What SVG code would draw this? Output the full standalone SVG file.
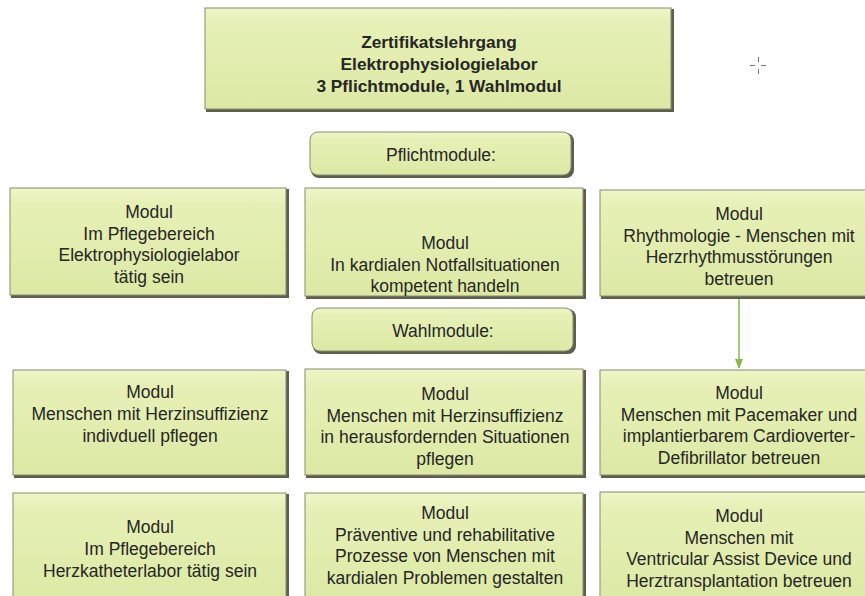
<svg xmlns="http://www.w3.org/2000/svg" width="865" height="596" viewBox="0 0 865 596">
<defs>
<linearGradient id="g" x1="0" y1="0" x2="0" y2="1">
<stop offset="0" stop-color="#eef5c6"/>
<stop offset="0.15" stop-color="#e6f0b6"/>
<stop offset="1" stop-color="#dce9a4"/>
</linearGradient>
<marker id="arr" viewBox="0 0 10 10" refX="9" refY="5" markerWidth="7" markerHeight="7" orient="auto">
<path d="M0,1 L10,5 L0,9 Z" fill="#86bb4a"/>
</marker>
</defs>
<style>
.sh{fill:#5e5e4c;}
.bx{fill:url(#g);stroke:#8a8a72;stroke-width:1;}
.t{font-family:"Liberation Sans",Arial,sans-serif;font-size:17.5px;fill:#262626;text-anchor:middle;}
.b{font-weight:bold;font-size:17.3px;}
</style>
<rect width="865" height="596" fill="#ffffff"/>

<g id="connectors">
<line x1="739" y1="299" x2="739" y2="368" stroke="#86bb4a" stroke-width="1.5" marker-end="url(#arr)"/>
</g>

<g id="title">
<rect class="sh" x="206" y="9" width="468" height="103"/>
<rect class="bx" x="205" y="8" width="466" height="101"/>
<text class="t b" x="439" y="48">Zertifikatslehrgang</text>
<text class="t b" x="439" y="70">Elektrophysiologielabor</text>
<text class="t b" x="439" y="92">3 Pflichtmodule, 1 Wahlmodul</text>
</g>

<g id="pflicht">
<rect class="sh" x="311" y="133" width="263" height="45" rx="8"/>
<rect class="bx" x="310" y="132" width="261" height="43" rx="8"/>
<text class="t" x="441" y="161">Pflichtmodule:</text>
</g>

<g id="m1">
<rect class="sh" x="11" y="189" width="278" height="109"/>
<rect class="bx" x="10" y="188" width="276" height="107"/>
<text class="t" x="149" y="218">Modul</text>
<text class="t" x="149" y="239.5">Im Pflegebereich</text>
<text class="t" x="149" y="261">Elektrophysiologielabor</text>
<text class="t" x="149" y="282.5">tätig sein</text>
</g>

<g id="m2">
<rect class="sh" x="306" y="189" width="280" height="110"/>
<rect class="bx" x="305" y="188" width="278" height="108"/>
<text class="t" x="445" y="249">Modul</text>
<text class="t" x="445" y="270.5">In kardialen Notfallsituationen</text>
<text class="t" x="445" y="292">kompetent handeln</text>
</g>

<g id="m3">
<rect class="sh" x="601" y="191" width="280" height="108"/>
<rect class="bx" x="600" y="190" width="280" height="106"/>
<text class="t" x="739" y="220">Modul</text>
<text class="t" x="739" y="241.5">Rhythmologie - Menschen mit</text>
<text class="t" x="739" y="263">Herzrhythmusstörungen</text>
<text class="t" x="739" y="284.5">betreuen</text>
</g>

<g id="wahl">
<rect class="sh" x="313" y="309" width="263" height="45" rx="8"/>
<rect class="bx" x="312" y="308" width="261" height="43" rx="8"/>
<text class="t" x="443" y="337">Wahlmodule:</text>
</g>

<g id="m4">
<rect class="sh" x="14" y="371" width="275" height="107"/>
<rect class="bx" x="13" y="370" width="273" height="105"/>
<text class="t" x="150" y="398">Modul</text>
<text class="t" x="150" y="420">Menschen mit Herzinsuffizienz</text>
<text class="t" x="150" y="442">indivduell pflegen</text>
</g>

<g id="m5">
<rect class="sh" x="306" y="370" width="280" height="108"/>
<rect class="bx" x="305" y="369" width="278" height="106"/>
<text class="t" x="445" y="400">Modul</text>
<text class="t" x="445" y="421.5">Menschen mit Herzinsuffizienz</text>
<text class="t" x="445" y="443">in herausfordernden Situationen</text>
<text class="t" x="445" y="464.5">pflegen</text>
</g>

<g id="m6">
<rect class="sh" x="601" y="371" width="280" height="107"/>
<rect class="bx" x="600" y="370" width="280" height="105"/>
<text class="t" x="739" y="399">Modul</text>
<text class="t" x="739" y="420.5">Menschen mit Pacemaker und</text>
<text class="t" x="739" y="442">implantierbarem Cardioverter-</text>
<text class="t" x="739" y="463.5">Defibrillator betreuen</text>
</g>

<g id="m7">
<rect class="sh" x="14" y="494" width="275" height="110"/>
<rect class="bx" x="13" y="493" width="273" height="110"/>
<text class="t" x="150" y="533">Modul</text>
<text class="t" x="150" y="555">Im Pflegebereich</text>
<text class="t" x="150" y="577">Herzkatheterlabor tätig sein</text>
</g>

<g id="m8">
<rect class="sh" x="306" y="494" width="280" height="110"/>
<rect class="bx" x="305" y="493" width="278" height="110"/>
<text class="t" x="445" y="519">Modul</text>
<text class="t" x="445" y="540.5">Präventive und rehabilitative</text>
<text class="t" x="445" y="562">Prozesse von Menschen mit</text>
<text class="t" x="445" y="583.5">kardialen Problemen gestalten</text>
</g>

<g id="m9">
<rect class="sh" x="601" y="493" width="280" height="110"/>
<rect class="bx" x="600" y="492" width="280" height="110"/>
<text class="t" x="739" y="522">Modul</text>
<text class="t" x="739" y="543.5">Menschen mit</text>
<text class="t" x="739" y="565">Ventricular Assist Device und</text>
<text class="t" x="739" y="586.5">Herztransplantation betreuen</text>
</g>

<g id="cursor" stroke="#777" stroke-width="1">
<line x1="750" y1="65.5" x2="755" y2="65.5"/>
<line x1="761" y1="65.5" x2="766" y2="65.5"/>
<line x1="758.5" y1="57" x2="758.5" y2="62"/>
<line x1="758.5" y1="69" x2="758.5" y2="74"/>
</g>
</svg>
